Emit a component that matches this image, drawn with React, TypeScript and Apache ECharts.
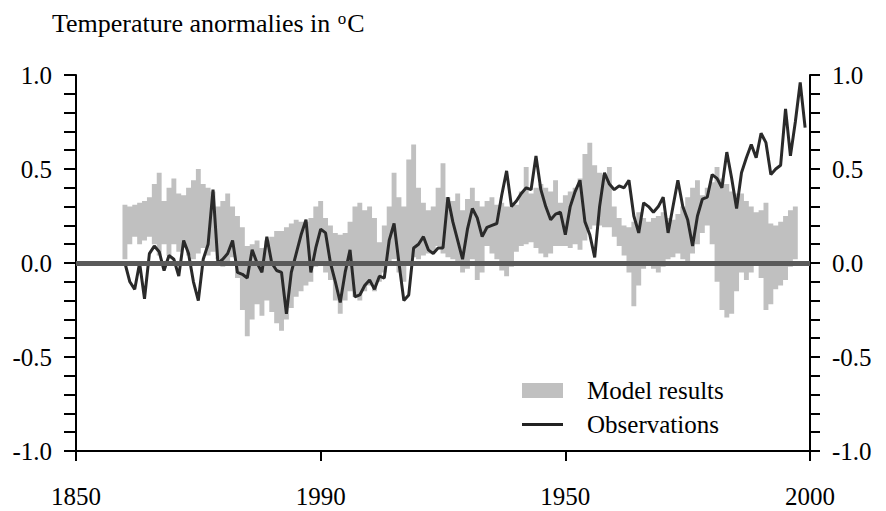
import React, { useEffect, useRef } from "react";
import * as echarts from "echarts";

// ---- data ----
const obsStartYear = 1860;
const observations = [
  0.0, -0.1, -0.14, 0.0, -0.19, 0.05, 0.09, 0.06, -0.04, 0.04,
  0.02, -0.07, 0.12, 0.05, -0.1, -0.2, 0.02, 0.1, 0.39, 0.0,
  0.02, 0.05, 0.12, -0.05, -0.06, -0.08, 0.07, 0.0, -0.05, 0.14,
  0.0, -0.04, -0.05, -0.27, -0.05, 0.05, 0.15, 0.23, -0.05, 0.08,
  0.18, 0.16, 0.0, -0.1, -0.21, -0.05, 0.07, -0.18, -0.17, -0.12,
  -0.09, -0.14, -0.07, -0.08, 0.12, 0.21, 0.0, -0.2, -0.17, 0.08,
  0.1, 0.14, 0.07, 0.05, 0.08, 0.08, 0.35, 0.22, 0.12, 0.02,
  0.18, 0.29, 0.24, 0.14, 0.19, 0.2, 0.21, 0.36, 0.49, 0.3,
  0.33, 0.37, 0.4, 0.39, 0.57, 0.39, 0.3, 0.23, 0.26, 0.27,
  0.15, 0.3, 0.38, 0.44, 0.22, 0.15, 0.03, 0.3, 0.48, 0.42,
  0.39, 0.41, 0.4, 0.44, 0.25, 0.16, 0.32, 0.3, 0.27, 0.3,
  0.35, 0.16, 0.3, 0.44, 0.3, 0.23, 0.09, 0.25, 0.34, 0.35,
  0.47, 0.45, 0.4, 0.59, 0.45, 0.29, 0.48, 0.56, 0.63, 0.56,
  0.69, 0.64, 0.47, 0.5, 0.52, 0.82, 0.57, 0.75, 0.96, 0.72,
];

const modelStartYear = 1860;
const modelUpper = [
  0.31, 0.3, 0.31, 0.32, 0.33, 0.35, 0.42, 0.48, 0.33, 0.4,
  0.45, 0.37, 0.36, 0.4, 0.44, 0.5, 0.42, 0.4, 0.38, 0.3,
  0.33, 0.37, 0.3, 0.25, 0.19, 0.09, 0.1, 0.12, 0.08, 0.12,
  0.14, 0.17, 0.17, 0.19, 0.21, 0.23, 0.22, 0.22, 0.24, 0.3,
  0.33, 0.24, 0.2, 0.16, 0.15, 0.16, 0.22, 0.3, 0.32, 0.28,
  0.3, 0.24, 0.11, 0.2, 0.3, 0.48, 0.35, 0.3, 0.55, 0.63,
  0.4, 0.32, 0.28, 0.3, 0.4, 0.53, 0.35, 0.33, 0.37, 0.28,
  0.34, 0.4, 0.33, 0.3, 0.33, 0.35, 0.31, 0.32, 0.3, 0.3,
  0.31, 0.38, 0.51, 0.37, 0.4, 0.42, 0.4, 0.38, 0.44, 0.32,
  0.36, 0.38, 0.4, 0.45, 0.58, 0.64, 0.52, 0.48, 0.47, 0.51,
  0.3, 0.24, 0.2, 0.19, 0.22, 0.27, 0.24, 0.22, 0.24, 0.25,
  0.27, 0.24, 0.23, 0.26, 0.3, 0.35, 0.4, 0.44, 0.36, 0.4,
  0.43, 0.51, 0.45, 0.42, 0.38, 0.37, 0.37, 0.33, 0.3, 0.27,
  0.28, 0.32, 0.21, 0.2, 0.22, 0.25, 0.28, 0.3,
];
const modelLower = [
  0.02, 0.1, 0.14, 0.1, 0.12, 0.14, 0.1, 0.04, 0.1, 0.04,
  0.1, 0.06, 0.08, 0.04, 0.02, 0.05, 0.08, 0.04, 0.06, 0.02,
  -0.02, 0.0, 0.03, -0.08, -0.25, -0.39, -0.3, -0.22, -0.28, -0.2,
  -0.26, -0.32, -0.36, -0.3, -0.24, -0.18, -0.15, -0.12, -0.1, -0.02,
  0.01, -0.05, -0.09, -0.2, -0.27, -0.2, -0.15, -0.18, -0.2, -0.15,
  -0.12, -0.15, -0.1, -0.05, 0.0, 0.02, -0.05, -0.1, 0.0, 0.03,
  0.02, 0.04, 0.05, 0.06, 0.09, 0.05, 0.03, 0.02, 0.0, -0.05,
  -0.03, 0.02, -0.09, -0.05, 0.09, 0.05, 0.02, -0.04, -0.07, -0.02,
  0.06, 0.09, 0.1, 0.11, 0.08, 0.05, 0.03, 0.05, 0.09, 0.09,
  0.09, 0.08, 0.1, 0.07, 0.12, 0.18, 0.2, 0.2, 0.19, 0.19,
  0.14, 0.09, 0.04, -0.05, -0.23, -0.12, -0.03, 0.0, -0.03, -0.05,
  -0.02, 0.02, 0.03, 0.05, 0.02, 0.0, 0.05, 0.1, 0.16, 0.2,
  0.1, -0.1, -0.25, -0.29, -0.27, -0.15, -0.05, -0.09, -0.05, 0.0,
  -0.08, -0.25, -0.22, -0.14, -0.12, -0.09, -0.02, 0.02,
];

const xTickValues = [1850, 1900, 1950, 2000];
const xTickLabels = ["1850", "1990", "1950", "2000"];
const yTickValues = [-1.0, -0.5, 0.0, 0.5, 1.0];
const yTickLabels = ["-1.0", "-0.5", "0.0", "0.5", "1.0"];
const titleMain = "Temperature anormalies in ";
const titleSup = "o";
const titleUnit = "C";
const legendNames = ["Model results", "Observations"];

export default function App() {
  const ref = useRef<HTMLDivElement>(null);

  useEffect(() => {
    if (!ref.current) return;
    const chart = echarts.init(ref.current, null, { renderer: "svg" });
    const font = "'Liberation Serif', 'Times New Roman', serif";
    const bandColor = "#c0c0c0";

    const obsData = observations.map((v, i) => [obsStartYear + i, v]);
    const bandData = modelUpper.map((v, i) => [modelStartYear + i, modelLower[i], v]);

    const xLabel = (v: number) => {
      const k = xTickValues.indexOf(Math.round(v));
      return k >= 0 ? xTickLabels[k] : "";
    };
    const yLabel = (v: number) => {
      const k = yTickValues.findIndex((t) => Math.abs(t - v) < 1e-6);
      return k >= 0 ? yTickLabels[k] : "";
    };

    const yAxisFor = (position: "left" | "right", tickLen: number, margin: number) => ({
      type: "value",
      position,
      min: -1,
      max: 1,
      interval: 0.5,
      axisLine: { show: true, onZero: false, lineStyle: { color: "#000", width: 2 } },
      axisTick: { show: true, inside: false, length: tickLen, lineStyle: { color: "#000", width: 2 } },
      minorTick: { show: true, splitNumber: 5, length: tickLen, lineStyle: { color: "#000", width: 2 } },
      splitLine: { show: false },
      minorSplitLine: { show: false },
      axisLabel: {
        show: true,
        margin,
        formatter: yLabel,
        fontFamily: font,
        fontSize: 25,
        color: "#000",
      },
    });

    chart.setOption({
      animation: false,
      backgroundColor: "#fff",
      title: {
        text: `{a|${titleMain}}{s|${titleSup}}{a|${titleUnit}}`,
        left: 47,
        top: 5,
        textStyle: {
          fontWeight: "normal",
          rich: {
            a: { fontFamily: font, fontSize: 26, fontWeight: "normal", color: "#000" },
            s: {
              fontFamily: font,
              fontSize: 17,
              fontWeight: "normal",
              color: "#000",
              verticalAlign: "top",
              padding: [0, 1, 4, 1],
            },
          },
        },
      },
      legend: {
        orient: "vertical",
        left: 517,
        top: 373,
        itemWidth: 41,
        itemHeight: 15,
        itemGap: 9,
        selectedMode: false,
        textStyle: { fontFamily: font, fontSize: 25, color: "#000", padding: [0, 0, 0, 19] },
        data: [
          { name: legendNames[0], icon: "rect", itemStyle: { color: bandColor } },
          { name: legendNames[1], icon: "path://M0,0H40V3H0Z", itemStyle: { color: "#222" } },
        ],
      },
      grid: { left: 76, right: 76, top: 75, bottom: 60, containLabel: false },
      xAxis: {
        type: "value",
        min: 1850,
        max: 2000,
        interval: 50,
        axisLine: { show: true, onZero: false, lineStyle: { color: "#000", width: 2 } },
        axisTick: { show: true, length: 10, lineStyle: { color: "#000", width: 2 } },
        splitLine: { show: false },
        axisLabel: {
          margin: 33,
          formatter: xLabel,
          fontFamily: font,
          fontSize: 25,
          color: "#000",
        },
      },
      yAxis: [yAxisFor("left", 12, 24), yAxisFor("right", 10, 22)],
      series: [
        {
          name: legendNames[0],
          type: "custom",
          data: bandData,
          silent: true,
          itemStyle: { color: bandColor },
          encode: { x: 0, y: [1, 2] },
          z: 1,
          renderItem: (params: any, api: any) => {
            // draw the whole stepped band once, as a single polygon
            if (params.dataIndex !== 0) return null;
            const top: number[][] = [];
            const bottom: number[][] = [];
            for (let i = 0; i < bandData.length; i++) {
              const [yr, lo, hi] = bandData[i];
              top.push(api.coord([yr - 0.5, hi]));
              top.push(api.coord([yr + 0.5, hi]));
              bottom.push(api.coord([yr - 0.5, lo]));
              bottom.push(api.coord([yr + 0.5, lo]));
            }
            const points = top.concat(bottom.reverse());
            return {
              type: "polygon",
              shape: { points },
              style: { fill: bandColor, stroke: null },
            };
          },
        },
        {
          name: "zeroLine",
          type: "line",
          data: [],
          silent: true,
          z: 2,
          markLine: {
            silent: true,
            symbol: ["none", "none"],
            label: { show: false },
            lineStyle: { color: "#5a5a5a", width: 5, type: "solid" },
            data: [{ yAxis: 0 }],
          },
        },
        {
          name: legendNames[1],
          type: "line",
          data: obsData,
          symbol: "none",
          silent: true,
          itemStyle: { color: "#222" },
          lineStyle: { color: "#2a2a2a", width: 3 },
          z: 3,
        },
      ],
    });

    return () => chart.dispose();
  }, []);

  return (
    <div
      ref={ref}
      style={{ position: "fixed", left: 0, top: 0, width: 886, height: 511, background: "#fff" }}
    />
  );
}
